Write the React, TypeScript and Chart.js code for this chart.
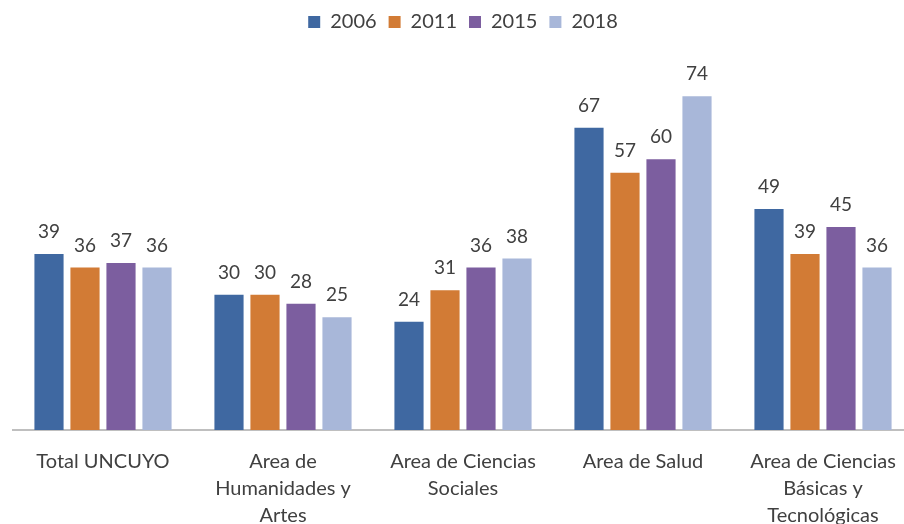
import React, { useEffect, useRef } from "react";
import { Chart, registerables } from "chart.js";

Chart.register(...registerables);

const categories: string[][] = [
  ["Total UNCUYO"],
  ["Area de", "Humanidades y", "Artes"],
  ["Area de Ciencias", "Sociales"],
  ["Area de Salud"],
  ["Area de Ciencias", "Básicas y", "Tecnológicas"],
];
const series2006 = [39, 30, 24, 67, 49];
const series2011 = [36, 30, 31, 57, 39];
const series2015 = [37, 28, 36, 60, 45];
const series2018 = [36, 25, 38, 74, 36];
const seriesNames = ["2006", "2011", "2015", "2018"];
const seriesColors = ["#3F68A1", "#D27B35", "#7C5E9F", "#A8B7D9"];

const FONT = "Lato, 'Open Sans', sans-serif";

const valueLabels = {
  id: "valueLabels",
  afterDatasetsDraw(chart: any) {
    const ctx = chart.ctx;
    ctx.save();
    ctx.font = `19px ${FONT}`;
    ctx.fillStyle = "#404040";
    ctx.textAlign = "center";
    ctx.textBaseline = "alphabetic";
    chart.data.datasets.forEach((ds: any, i: number) => {
      const meta = chart.getDatasetMeta(i);
      meta.data.forEach((bar: any, j: number) => {
        ctx.fillText(String(ds.data[j]), bar.x, bar.y - 16);
      });
    });
    ctx.restore();
  },
};

export default function App() {
  const ref = useRef<HTMLCanvasElement>(null);
  useEffect(() => {
    document.body.style.overflow = "hidden";
    const all = [series2006, series2011, series2015, series2018];
    const chart = new Chart(ref.current!, {
      type: "bar",
      data: {
        labels: categories,
        datasets: all.map((d, i) => ({
          label: seriesNames[i],
          data: d,
          backgroundColor: seriesColors[i],
          categoryPercentage: 0.8,
          barPercentage: 0.81,
        })),
      },
      options: {
        animation: false,
        responsive: false,
        maintainAspectRatio: false,
        layout: { padding: { left: 13, right: 7, top: 0, bottom: 0 } },
        plugins: {
          legend: {
            position: "top",
            labels: {
              boxWidth: 12,
              boxHeight: 12,
              padding: 12,
              color: "#404040",
              font: { family: FONT, size: 20 },
            },
          },
          tooltip: { enabled: false },
        },
        scales: {
          x: {
            grid: { display: false, drawTicks: false },
            border: { display: true, color: "#BFBFBF", width: 2 },
            ticks: {
              color: "#404040",
              padding: 18,
              maxRotation: 0,
              autoSkip: false,
              font: { family: FONT, size: 20, lineHeight: 1.35 },
            },
            afterFit: (s: any) => {
              s.height = 94;
            },
          },
          y: {
            display: false,
            min: 0,
            max: 86,
          },
        },
      },
      plugins: [valueLabels],
    });
    return () => chart.destroy();
  }, []);
  return (
    <canvas
      ref={ref}
      width={920}
      height={524}
      style={{ position: "fixed", left: 0, top: 0, width: 920, height: 524 }}
    />
  );
}
